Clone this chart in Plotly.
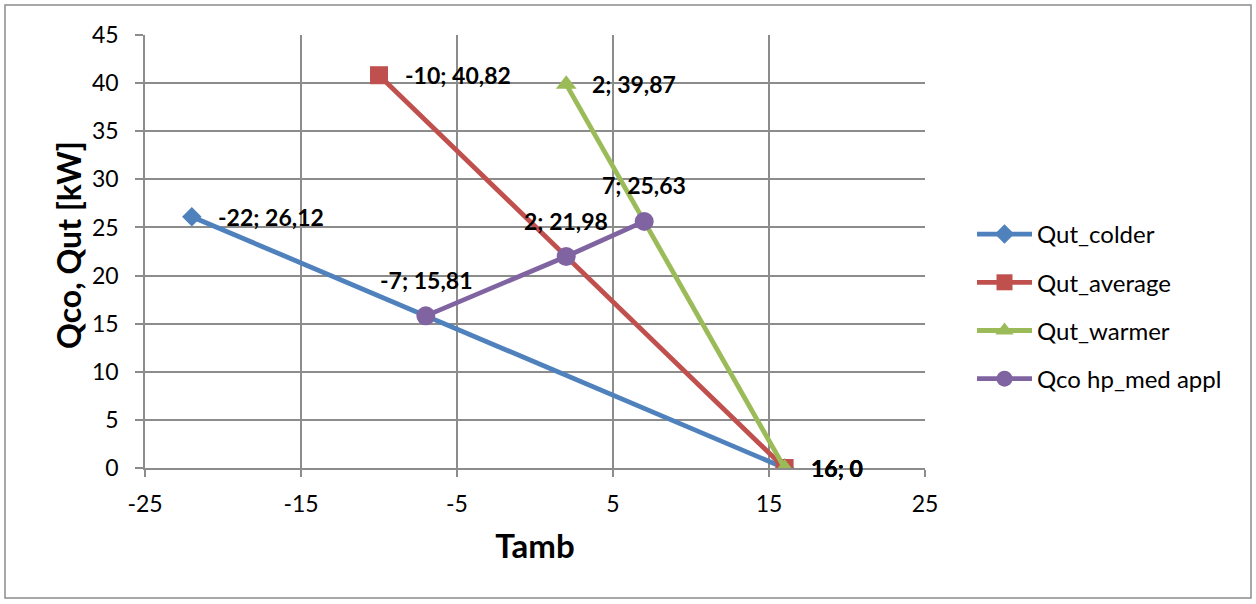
import plotly.graph_objects as go

# Ambient temperature (x) and heat output (y) for each series
colder_t = [-22, 16]
colder_q = [26.12, 0]
average_t = [-10, 16]
average_q = [40.82, 0]
warmer_t = [2, 16]
warmer_q = [39.87, 0]
hp_t = [-7, 2, 7]
hp_q = [15.81, 21.98, 25.63]

x_ticks = [-25, -15, -5, 5, 15, 25]
y_ticks = [0, 5, 10, 15, 20, 25, 30, 35, 40, 45]

FONT = "Lato"
W, H = 1256, 604
L, R, T, B = 145, 925, 35, 468  # plot area edges in pixels


def fmt(v):
    if float(v).is_integer():
        return str(int(v))
    return f"{v:.2f}".replace(".", ",")


series = [
    ("Qut_colder", colder_t, colder_q, "#4F81BD", "diamond", 15, "right"),
    ("Qut_average", average_t, average_q, "#C0504D", "square", 18, "right"),
    ("Qut_warmer", warmer_t, warmer_q, "#9BBB59", "triangle-up", 18, "right"),
    ("Qco hp_med appl", hp_t, hp_q, "#8064A2", "circle", 19, "top"),
]

pw, ph = R - L, B - T


def px_x(p):
    return (p - L) / pw


def px_y(p):
    return (B - p) / ph


fig = go.Figure()
annotations = []
label_font = dict(family=FONT, size=23, color="black")
for name, xs, ys, color, symbol, size, pos in series:
    fig.add_trace(go.Scatter(
        x=xs, y=ys, mode="lines+markers", name=name,
        legendgroup=name,
        line=dict(color=color, width=4.8),
        marker=dict(symbol=symbol, size=size, color=color),
    ))
    for xv, yv in zip(xs, ys):
        label = f"<b>{fmt(xv)}; {fmt(yv)}</b>"
        if pos == "right":
            annotations.append(dict(x=xv, y=yv, text=label, showarrow=False,
                                    xanchor="left", yanchor="middle", xshift=24,
                                    font=label_font))
        else:
            annotations.append(dict(x=xv, y=yv, text=label, showarrow=False,
                                    xanchor="center", yanchor="middle", yshift=36,
                                    font=label_font))

# Vertical axis title
annotations.append(dict(
    x=px_x(68), y=px_y(245), xref="paper", yref="paper",
    text="<b>Qco, Qut [kW]</b>", textangle=-90, showarrow=False,
    xanchor="center", yanchor="middle",
    font=dict(family=FONT, size=32, color="black"),
))

fig.update_layout(
    width=W, height=H,
    margin=dict(l=L, r=W - R, t=T, b=H - B),
    paper_bgcolor="white", plot_bgcolor="white",
    font=dict(family=FONT, size=23, color="black"),
    showlegend=True,
    legend=dict(
        x=px_x(972), y=px_y(212), xanchor="left", yanchor="top",
        traceorder="grouped", tracegroupgap=14, itemwidth=55,
        font=dict(family=FONT, size=24, color="black"),
        bgcolor="rgba(0,0,0,0)",
    ),
    annotations=annotations,
    shapes=[dict(type="rect", xref="paper", yref="paper",
                 x0=px_x(5), x1=px_x(1251), y0=px_y(598), y1=px_y(5),
                 line=dict(color="#8C8C8C", width=1.5), layer="below")],
)

fig.update_xaxes(
    range=[-25, 25], tickvals=x_ticks, ticktext=[str(v) for v in x_ticks],
    showgrid=True, gridcolor="#8C8C8C", gridwidth=1.5,
    showline=True, linecolor="#8C8C8C", linewidth=1.5, mirror=False,
    ticks="outside", ticklen=7, tickcolor="#8C8C8C", tickwidth=1.5,
    ticklabelstandoff=8, zeroline=False,
    tickfont=dict(family=FONT, size=23),
    title=dict(text="<b>Tamb</b>", font=dict(family=FONT, size=33), standoff=19),
)
fig.update_yaxes(
    range=[0, 45], tickvals=y_ticks,
    showgrid=True, gridcolor="#8C8C8C", gridwidth=1.5,
    showline=True, linecolor="#8C8C8C", linewidth=1.5,
    ticks="outside", ticklen=8, tickcolor="#8C8C8C", tickwidth=1.5,
    ticklabelstandoff=12, zeroline=False,
    tickfont=dict(family=FONT, size=23),
)

fig.write_html("out.html")
